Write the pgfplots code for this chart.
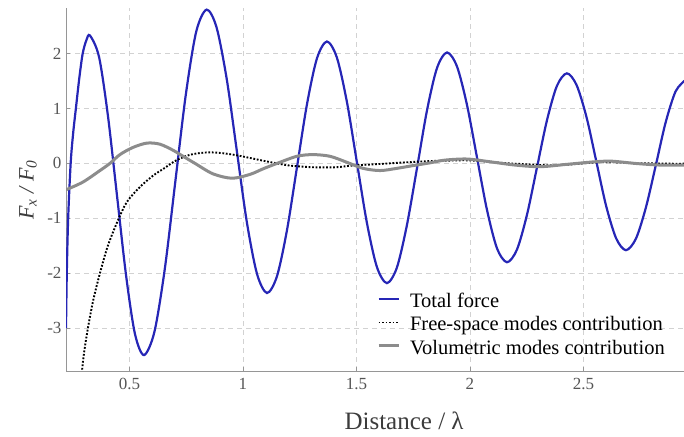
\documentclass[border=0pt]{standalone}
\usepackage{fontspec}
\setmainfont{Liberation Serif}
\usepackage{pgfplots}
\pgfplotsset{compat=1.18}

\definecolor{forceblue}{RGB}{38,38,182}
\definecolor{volgray}{RGB}{140,140,140}
\definecolor{axisgray}{RGB}{150,150,150}
\definecolor{gridgray}{RGB}{210,210,210}
\definecolor{ticktext}{RGB}{85,85,85}
\definecolor{labeltext}{RGB}{60,60,60}

\begin{document}
\begin{tikzpicture}
\begin{axis}[
  name=ax,
  scale only axis, width=618pt, height=363pt,
  xmin=0.2205, xmax=2.943, ymin=-3.78, ymax=2.83,
  axis lines=left,
  axis line style={-, draw=axisgray, line width=0.8pt},
  xtick={0.5,1,1.5,2,2.5}, ytick={-3,-2,-1,0,1,2},
  grid=major,
  major grid style={draw=gridgray, dash pattern=on 5pt off 4pt, line width=0.6pt},
  tick style={draw=axisgray, line width=0.6pt},
  tick align=inside, major tick length=4pt,
  /pgf/number format/assume math mode=true,
  ticklabel style={font=\fontsize{17}{17}\selectfont, text=ticktext},
  xticklabel style={yshift=-4pt},
  yticklabel style={xshift=-1pt},
  xlabel={Distance / λ},
  xlabel style={at={(axis description cs:0.547,-0.1625)}, anchor=base,
                font=\fontsize{25}{25}\selectfont, text=labeltext},
  ylabel={\textit{F\textsubscript{x} / F\textsubscript{0}}},
  ylabel style={at={(axis description cs:-0.0615,0.499)}, anchor=center,
                font=\fontsize{22}{22}\selectfont, text=labeltext},
  legend style={at={(axis description cs:0.503,0.215)}, anchor=north west,
                draw=none, fill=none, inner sep=0pt,
                font=\fontsize{20.5}{20.5}\selectfont,
                nodes={inner sep=0pt, text height=14pt, text depth=4pt},
                row sep=5.5pt, column sep=10pt},
  legend cell align=left,
  legend image code/.code={\draw[#1] (0pt,0.32em) -- (20pt,0.32em);},
]

% total force
\addplot[forceblue, line width=2.2pt, smooth] coordinates {
 (0.2205,-3.0) (0.224,-2.0) (0.230,-1.0) (0.241,0.0) (0.252,0.55)
 (0.264,1.0) (0.279,1.55) (0.294,2.0) (0.310,2.24) (0.326,2.33)
 (0.366,1.94) (0.405,0.875) (0.445,-0.58) (0.485,-2.035) (0.524,-3.10) (0.564,-3.49)
 (0.610,-3.067) (0.656,-1.913) (0.702,-0.335) (0.748,1.243) (0.794,2.397) (0.840,2.80)
 (0.884,2.473) (0.929,1.525) (0.973,0.23) (1.017,-1.065) (1.062,-2.013) (1.106,-2.36)
 (1.150,-2.053) (1.194,-1.215) (1.238,-0.07) (1.282,1.075) (1.326,1.913) (1.370,2.22)
 (1.414,1.925) (1.458,1.12) (1.502,0.02) (1.546,-1.08) (1.590,-1.885) (1.634,-2.18)
 (1.678,-1.899) (1.722,-1.13) (1.767,-0.08) (1.811,0.97) (1.855,1.739) (1.899,2.02)
 (1.943,1.764) (1.987,1.065) (2.031,0.11) (2.075,-0.845) (2.119,-1.544) (2.163,-1.80)
 (2.207,-1.57) (2.251,-0.94) (2.295,-0.08) (2.339,0.78) (2.383,1.41) (2.427,1.64)
 (2.470,1.424) (2.514,0.835) (2.557,0.03) (2.600,-0.775) (2.644,-1.364) (2.687,-1.58)
 (2.731,-1.372) (2.775,-0.805) (2.819,-0.03) (2.862,0.745) (2.906,1.312) (2.950,1.52)
};
\addlegendentry{Total force}

% free-space modes
\addplot[black, line width=1.9pt, dash pattern=on 1.8pt off 1.7pt, smooth] coordinates {
 (0.283,-4.2) (0.291,-3.78) (0.300,-3.45) (0.317,-3.0) (0.340,-2.5) (0.370,-2.0)
 (0.405,-1.5) (0.449,-1.04) (0.489,-0.70) (0.546,-0.43) (0.605,-0.22) (0.649,-0.10)
 (0.708,0.06) (0.770,0.16) (0.840,0.20) (0.900,0.19) (0.970,0.15) (1.088,0.05)
 (1.150,0.0) (1.207,-0.04) (1.308,-0.07) (1.410,-0.07) (1.480,-0.04) (1.604,-0.01)
 (1.678,0.01) (1.810,0.04) (1.900,0.05) (2.000,0.055) (2.145,0.01) (2.220,-0.01)
 (2.366,-0.035) (2.485,-0.005) (2.586,0.024) (2.736,0.005) (2.880,-0.005) (2.943,-0.005)
};
\addlegendentry{Free-space modes contribution}

% volumetric modes
\addplot[volgray, line width=3pt, smooth] coordinates {
 (0.2205,-0.48) (0.295,-0.34) (0.370,-0.13) (0.414,0.0) (0.458,0.16) (0.515,0.29)
 (0.577,0.37) (0.634,0.35) (0.692,0.24) (0.736,0.13) (0.789,0.0) (0.868,-0.19)
 (0.952,-0.27) (1.031,-0.20) (1.088,-0.10) (1.150,0.0) (1.238,0.13) (1.308,0.16)
 (1.383,0.13) (1.458,0.02) (1.529,-0.09) (1.604,-0.13) (1.678,-0.09) (1.749,-0.04)
 (1.824,0.01) (1.890,0.06) (1.987,0.08) (2.088,0.03) (2.198,-0.03) (2.308,-0.06)
 (2.419,-0.02) (2.551,0.03) (2.626,0.04) (2.727,0.0) (2.837,-0.03) (2.943,-0.03)
};
\addlegendentry{Volumetric modes contribution}

\end{axis}
\pgfresetboundingbox
\path[use as bounding box] ([shift={(-66pt,-66pt)}]ax.south west) rectangle ([shift={(0pt,8pt)}]ax.north east);
\end{tikzpicture}
\end{document}
